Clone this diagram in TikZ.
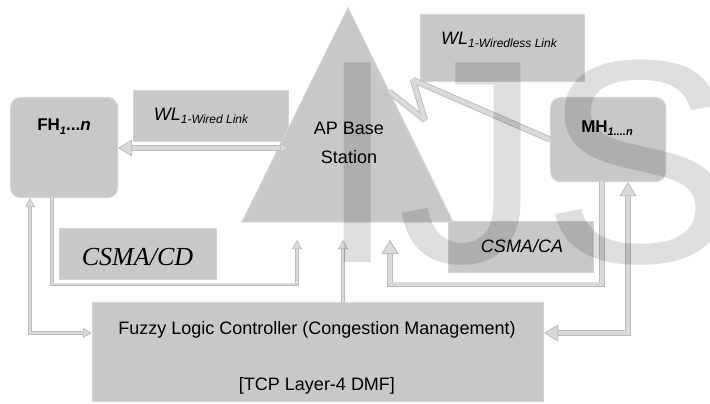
\documentclass[tikz,border=0pt]{standalone}
\usepackage{fontspec}
\setmainfont{Liberation Sans}
\newfontfamily\serifface{Liberation Serif}
\newfontfamily\markface{Liberation Sans}
\usetikzlibrary{arrows.meta,calc}
\definecolor{boxfill}{RGB}{200,200,200}
\definecolor{boxedge}{RGB}{212,212,212}
\definecolor{linkin}{RGB}{218,218,218}
\definecolor{linkout}{RGB}{186,186,186}
\newcommand\fsz[1]{\fontsize{#1}{#1}\selectfont}
\newcommand\sub[1]{\raisebox{-3pt}{#1}}

\begin{document}
\begin{tikzpicture}[x=1pt,y=-1pt,
  box/.style={draw=boxedge, fill=boxfill, line width=1.2pt, inner sep=0pt,
    anchor=north west},
  host/.style={box, rounded corners=10pt},
  lbl/.style={anchor=base, inner sep=0pt},
  thinlink/.style={draw=linkout, line width=0.7pt, double=linkin,
    double distance=1.8pt},
  thicklink/.style={draw=linkout, line width=0.9pt, double=linkin,
    double distance=3.6pt},
  bolt/.style={draw=linkout, line width=0.9pt, double=linkin,
    double distance=4.2pt, line join=bevel},
  tipS/.tip={Triangle[length=9pt,width=10pt,line width=0.6pt,fill=linkin]},
  tipL/.tip={Triangle[length=14pt,width=17pt,line width=0.8pt,fill=linkin]},
]
\useasboundingbox (0,0) rectangle (710,404);
\clip (0,0) rectangle (710,404);

% ---- hosts, access point and controller
\node[host, minimum width=107pt, minimum height=100pt] (fh) at (10,97) {};
\node[host, minimum width=115pt, minimum height=84pt] (mh) at (550,97) {};
\node[box, minimum width=155pt, minimum height=51pt] (wired) at (133,90) {};
\node[box, minimum width=164pt, minimum height=67pt] (wless) at (420,14) {};
\node[box, minimum width=157pt, minimum height=51pt] (cd) at (59,228) {};
\node[box, minimum width=145pt, minimum height=51pt] (ca) at (448,221) {};
\node[box, minimum width=451pt, minimum height=99pt] (flc) at (92,302) {};

\coordinate (apex) at (348,8);
\coordinate (tl) at (242,222);
\coordinate (tr) at (453,222);
\filldraw[fill=boxfill, draw=boxedge, line width=1.2pt] (apex) -- (tl) -- (tr) -- cycle;

% ---- labels
\node[lbl, font=\fsz{17}\bfseries] (fhlbl) at (64,131)
  {FH\sub{\fsz{11}\itshape 1}...\textit{n}};
\node[lbl, font=\fsz{17}\bfseries] (mhlbl) at (607,132)
  {MH\sub{\fsz{11}\itshape 1....n}};
\node[lbl] (wiredlbl) at (201,121)
  {\fsz{18}\itshape WL\sub{\fsz{12}\itshape 1-Wired Link}};
\node[lbl] (wlesslbl) at (499,45)
  {\fsz{18}\itshape WL\sub{\fsz{12}\itshape 1-Wiredless Link}};
\node[lbl, font=\fsz{18}] (ap1) at (349,135) {AP Base};
\node[lbl, font=\fsz{18}] (ap2) at (349,163) {Station};
\node[lbl, font=\serifface\fsz{26}\itshape] (cdlbl) at (137.5,265) {CSMA/CD};
\node[lbl, font=\fsz{18}\itshape] (calbl) at (522,252) {CSMA/CA};
\node[lbl, font=\fsz{18}] (flc1) at (317,334)
  {Fuzzy Logic Controller (Congestion Management)};
\node[lbl, font=\fsz{18}] (flc2) at (317,390) {[TCP Layer-4 DMF]};

% ---- connectors
\coordinate (tb1) at (297,240);
\coordinate (tb2) at (343,240);
\coordinate (tb3) at (390,240);
\coordinate (wtip) at (289,148);

\draw[thicklink, {tipS}-{tipL}] (wtip) -- (wtip -| fh.east);
\draw[thinlink, -{tipS}] ([xshift=42pt]fh.south west) -- ++(0,86) -| (tb1);
\draw[thinlink, {tipS}-{tipS}] ([xshift=20pt]fh.south west)
  |- ([yshift=-31pt]flc.north west);
\draw[thinlink, -{tipS}] (flc.north -| tb2) -- (tb2);
\draw[thicklink, -{tipL}] ([xshift=52pt]mh.south west) -- ++(0,102) -| (tb3);
\draw[thicklink, {tipL}-{tipL}] ([xshift=78pt]mh.south west)
  |- ([yshift=-31pt]flc.north east);
\draw[bolt] ($(apex)!0.39!(tr)$) -- (425,120) -- (413,80) -- (mh.west);

% ---- watermark lettering
\node[anchor=base west, inner sep=0pt, text=black, text opacity=0.13,
  font=\markface\fsz{290}] (mark) at (317,262) {IJS};
\end{tikzpicture}
\end{document}
